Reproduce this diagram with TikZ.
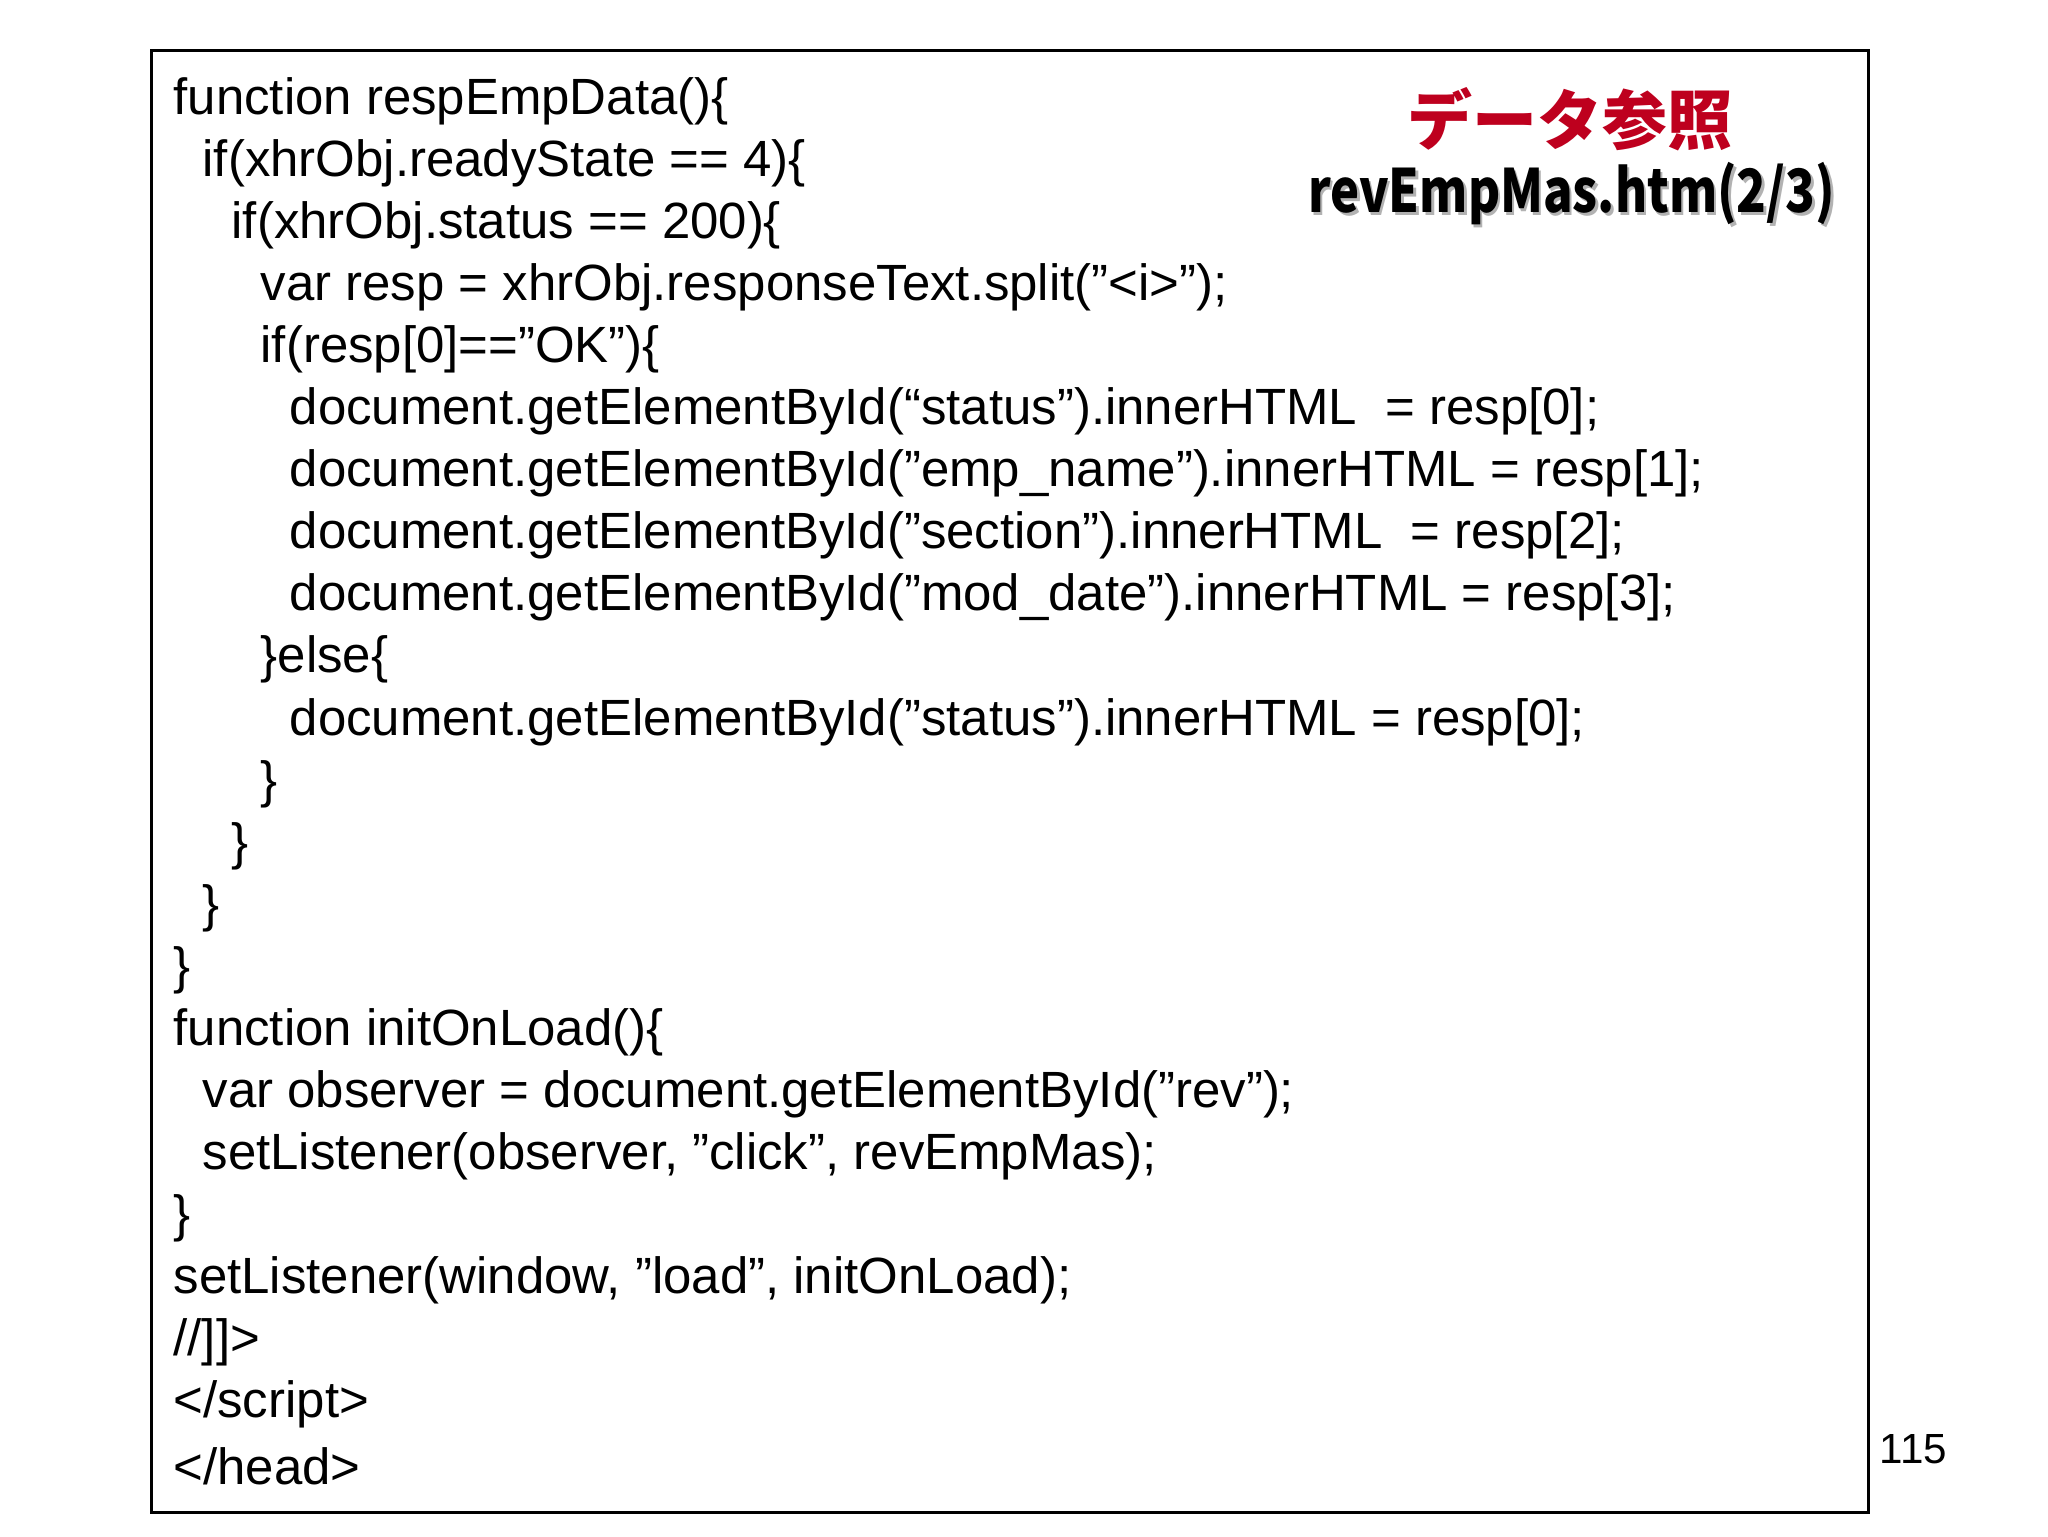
\documentclass[tikz,border=0pt]{standalone}
\usepackage{fontspec}
\setmainfont[Ligatures=NoCommon]{Liberation Sans}
\newfontfamily\jpfont{Noto Sans CJK JP}
\definecolor{titlered}{RGB}{190,0,30}
\newcommand\dq{\symbol{34}}
\begin{document}
\begin{tikzpicture}[x=0.013196cm,y=-0.013196cm,
  code/.style={anchor=west,inner sep=0pt,font=\fontsize{14.5}{17}\selectfont}]
\useasboundingbox (0,0) rectangle (1552,1164);
\draw[line width=0.8pt] (115,38) rectangle (1416,1146);
\foreach \lvl/\row/\txt [count=\i] in {
0/0/{function respEmpData()\{},
1/1/{if(xhrObj.readyState == 4)\{},
2/2/{if(xhrObj.status == 200)\{},
3/3/{var resp = xhrObj.responseText.split(\dq<i>\dq);},
3/4/{if(resp[0]==\dq OK\dq)\{},
4/5/{document.getElementById(“status”).innerHTML \ = resp[0];},
4/6/{document.getElementById(\dq emp\_name\dq).innerHTML = resp[1];},
4/7/{document.getElementById(\dq section\dq).innerHTML \ = resp[2];},
4/8/{document.getElementById(\dq mod\_date\dq).innerHTML = resp[3];},
3/9/{\}else\{},
4/10/{document.getElementById(\dq status\dq).innerHTML = resp[0];},
3/11/{\}},
2/12/{\}},
1/13/{\}},
0/14/{\}},
0/15/{function initOnLoad()\{},
1/16/{var observer = document.getElementById(\dq rev\dq);},
1/17/{setListener(observer, \dq click\dq, revEmpMas);},
0/18/{\}},
0/19/{setListener(window, \dq load\dq, initOnLoad);},
0/20/{//]]>},
0/21/{</script>},
0/22/{</head>}}
  \node[code] (l\i) at ({131+22*\lvl},{77+47*\row}) {\txt};
\node[inner sep=0pt,font=\jpfont\bfseries\fontsize{18.5}{22}\selectfont,text=titlered] (t1) at (1190,90) {データ参照};
\node[inner sep=0pt,font=\jpfont\bfseries\fontsize{17}{20}\selectfont,text=gray!60] at (1193,149) {\scalebox{0.82}[1]{revEmpMas.htm(2/3)}};
\node[inner sep=0pt,font=\jpfont\bfseries\fontsize{17}{20}\selectfont] (t2) at (1191,147) {\scalebox{0.82}[1]{revEmpMas.htm(2/3)}};
\node[inner sep=0pt,font=\fontsize{12}{14}\selectfont] (pg) at (1450,1098) {115};
\end{tikzpicture}
\end{document}
